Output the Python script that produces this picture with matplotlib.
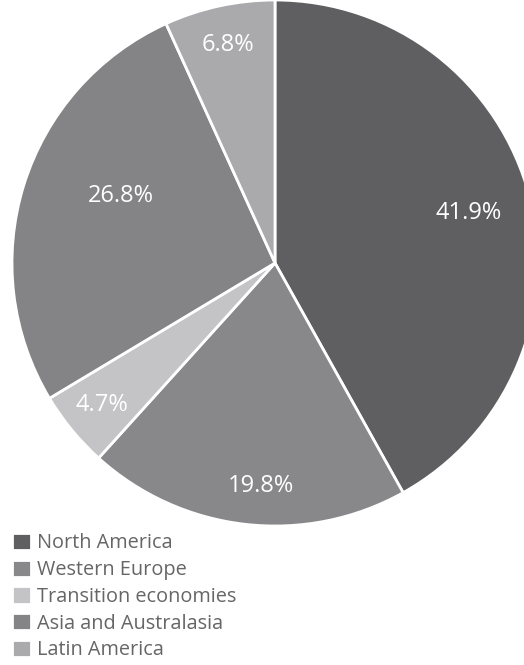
import matplotlib
matplotlib.use('Agg')

import matplotlib.pyplot as plt
import numpy as np

regions = ['North America', 'Western Europe', 'Transition economies',
           'Asia and Australasia', 'Latin America']
shares = [41.9, 19.8, 4.7, 26.8, 6.8]
colors = ['#5f5f61', '#88888a', '#c4c4c6', '#848486', '#aaaaac']
# radial position of each percentage label (fraction of radius)
label_r = [0.76, 0.85, 0.85, 0.64, 0.85]
label_shift = [0, 3, 0, -6, 0]  # degrees

W, H = 524, 665
fig = plt.figure(figsize=(W / 100, H / 100), dpi=100)
plt.rcParams['font.family'] = ['Open Sans', 'DejaVu Sans']

cx, cy, r = 275, 263, 263
ax = fig.add_axes([(cx - r) / W, (H - cy - r) / H, 2 * r / W, 2 * r / H])
wedges, _ = ax.pie(shares, colors=colors, startangle=90, counterclock=False,
                   radius=1, wedgeprops=dict(edgecolor='white', linewidth=2))
ax.set_xlim(-1, 1)
ax.set_ylim(-1, 1)
ax.set_aspect('equal')
ax.axis('off')

for w, s, lr, sh in zip(wedges, shares, label_r, label_shift):
    ang = np.deg2rad((w.theta1 + w.theta2) / 2 + sh)
    ax.text(lr * np.cos(ang), lr * np.sin(ang), f'{s}%', color='white',
            fontsize=17, ha='center', va='center')

fig.legend(wedges, regions, loc='upper left', bbox_to_anchor=(4 / W, 1 - 525 / H),
           frameon=False, fontsize=14.3, handlelength=0.95, handleheight=0.95,
           handletextpad=0.3, labelspacing=0.32, labelcolor='#666666',
           borderaxespad=0)

fig.savefig('out.png', dpi=100)
